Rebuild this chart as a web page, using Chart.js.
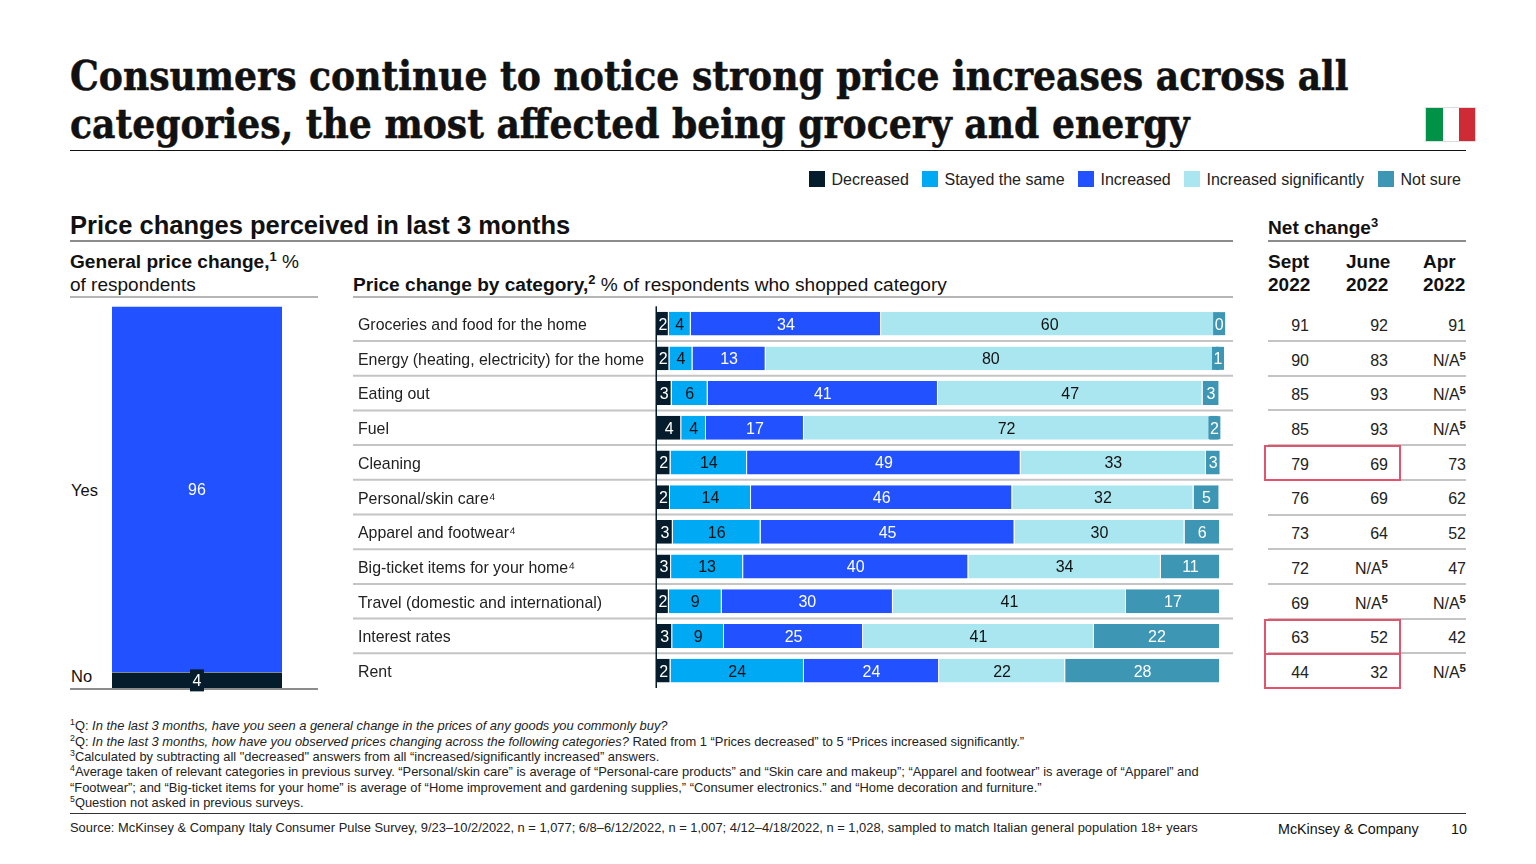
<!DOCTYPE html>
<html>
<head>
<meta charset="utf-8">
<script src="https://cdn.jsdelivr.net/npm/chart.js@4"></script>
<style>
html, body { margin: 0; background: #fff; }
#page { position: absolute; left: 0; top: 0; width: 1536px; height: 864px; overflow: hidden; color: #111;
  font-family: "Liberation Sans", Arial, sans-serif; }
#page div, #page canvas { position: absolute; }
.t { white-space: nowrap; line-height: 24px; height: 24px; }
.title { font-family: "DejaVu Serif", serif; font-stretch: condensed; font-weight: bold; font-size: 40.2px; line-height: 48px; height: 48px;
  color: #111; -webkit-text-stroke: 0.5px #111; white-space: nowrap; left: 70px; }
.h { font-size: 19.1px; font-weight: bold; }
.r { font-size: 16.5px; }
.foot { font-size: 12.9px; line-height: 16px; height: 16px; white-space: nowrap; left: 70px; color: #222; }
sup { font-size: 68%; line-height: 0; vertical-align: super; }
.cell { font-size: 16px; text-align: right; width: 60px; color: #222; }
.rule { height: 2px; background: #8c8c8c; }
.box { border: 2px solid #e2546e; box-sizing: border-box; }
</style>
</head>
<body>
<div id="page">
  <div class="title" style="top:52px">Consumers continue to notice strong price increases across all</div>
  <div class="title" style="top:100px">categories, the most affected being grocery and energy</div>
  <div style="left:70px;top:150px;width:1396px;height:1px;background:#111"></div>
  <div style="left:1425px;top:107px;width:51px;height:35px;background:#ddd"></div>
  <div style="left:1426px;top:108px;width:17px;height:33px;background:#009246"></div>
  <div style="left:1443px;top:108px;width:16px;height:33px;background:#fff"></div>
  <div style="left:1459px;top:108px;width:16px;height:33px;background:#ce2b37"></div>

  <div id="legend"></div>

  <div class="t" style="left:70px;top:213px;font-size:25.5px;font-weight:bold">Price changes perceived in last 3 months</div>
  <div class="rule" style="left:70px;top:240px;width:1163px"></div>
  <div class="t h" style="left:1268px;top:216px">Net change<sup>3</sup></div>
  <div class="rule" style="left:1268px;top:240px;width:198px"></div>

  <div class="t h" style="left:70px;top:250px">General price change,<sup>1</sup> <span style="font-weight:normal">%</span></div>
  <div class="t r" style="left:70px;top:273px;font-size:19px">of respondents</div>
  <div class="rule" style="left:70px;top:296px;width:248px;background:#b5b5b5"></div>
  <div class="t h" style="left:353px;top:273px">Price change by category,<sup>2</sup> <span style="font-weight:normal">% of respondents who shopped category</span></div>
  <div class="rule" style="left:353px;top:296px;width:880px;background:#b5b5b5"></div>

  <div class="t h" style="left:1268px;top:250px;font-size:19px">Sept</div>
  <div class="t h" style="left:1268px;top:273px;font-size:19px">2022</div>
  <div class="t h" style="left:1346px;top:250px;font-size:19px">June</div>
  <div class="t h" style="left:1346px;top:273px;font-size:19px">2022</div>
  <div class="t h" style="left:1423px;top:250px;font-size:19px">Apr</div>
  <div class="t h" style="left:1423px;top:273px;font-size:19px">2022</div>

  <div class="t r" style="left:71px;top:478px">Yes</div>
  <div class="t r" style="left:71px;top:664px">No</div>

  <canvas id="general" style="left:70px;top:300px"></canvas>
  <canvas id="category" style="left:353px;top:300px"></canvas>
  <div id="table"></div>

  <div class="foot" style="top:718px"><sup>1</sup>Q: <i>In the last 3 months, have you seen a general change in the prices of any goods you commonly buy?</i></div>
  <div class="foot" style="top:734px"><sup>2</sup>Q: <i>In the last 3 months, how have you observed prices changing across the following categories?</i> Rated from 1 “Prices decreased” to 5 “Prices increased significantly.”</div>
  <div class="foot" style="top:749px"><sup>3</sup>Calculated by subtracting all "decreased" answers from all “increased/significantly increased” answers.</div>
  <div class="foot" style="top:764px"><sup>4</sup>Average taken of relevant categories in previous survey. “Personal/skin care” is average of “Personal-care products” and “Skin care and makeup”; “Apparel and footwear” is average of “Apparel” and</div>
  <div class="foot" style="top:780px">“Footwear”; and “Big-ticket items for your home” is average of “Home improvement and gardening supplies,” “Consumer electronics.” and “Home decoration and furniture.”</div>
  <div class="foot" style="top:795px"><sup>5</sup>Question not asked in previous surveys.</div>
  <div style="left:70px;top:813px;width:1396px;height:1px;background:#333"></div>
  <div class="foot" style="top:820px">Source: McKinsey &amp; Company Italy Consumer Pulse Survey, 9/23–10/2/2022, n = 1,077; 6/8–6/12/2022, n = 1,007; 4/12–4/18/2022, n = 1,028, sampled to match Italian general population 18+ years</div>
  <div class="t" style="left:1278px;top:817px;font-size:14.3px">McKinsey &amp; Company</div>
  <div class="t" style="left:1451px;top:817px;font-size:14.3px">10</div>
</div>

<script>
"use strict";

const seriesNames = ["Decreased", "Stayed the same", "Increased", "Increased significantly", "Not sure"];
const seriesColors = ["#051c2c", "#00a9f4", "#2251ff", "#aae6f0", "#3c96b4"];
const labelColors = ["#fff", "#111", "#fff", "#111", "#fff"];

const categories = [
    "Groceries and food for the home",
    "Energy (heating, electricity) for the home",
    "Eating out",
    "Fuel",
    "Cleaning",
    "Personal/skin care⁴",
    "Apparel and footwear⁴",
    "Big-ticket items for your home⁴",
    "Travel (domestic and international)",
    "Interest rates",
    "Rent"
];

// labels show them rounded
const decreased = [2.1, 2.2, 2.6, 4.3, 2.4, 2.3, 2.8, 2.5, 2.1, 2.7, 2.4];
const stayedSame = [3.9, 4.1, 6.4, 4.4, 13.6, 14.4, 15.6, 12.8, 9.4, 9.2, 23.7];
const increased = [33.8, 13.0, 40.9, 17.4, 48.6, 46.4, 45.1, 40.0, 30.4, 24.7, 24.0];
const increasedSig = [59.9, 80.0, 47.0, 72.0, 32.9, 32.2, 30.2, 34.2, 41.4, 41.0, 22.4];
const notSure = [0.3, 0.7, 3.0, 1.8, 2.6, 4.6, 6.3, 10.5, 16.7, 22.4, 27.5];

const generalLabels = ["No", "Yes"];
const generalNo = [4];
const generalYes = [96];

const netSept = ["91", "90", "85", "85", "79", "76", "73", "72", "69", "63", "44"];
const netJune = ["92", "83", "93", "93", "69", "69", "64", "N/A", "N/A", "52", "32"];
const netApr = ["91", "N/A", "N/A", "N/A", "73", "62", "52", "47", "N/A", "42", "N/A"];
const highlightRows = [4, 9, 10];

// Boxed labels and dividers are drawn through the chart's scales
const valueLabels = {
    id: "valueLabels",
    afterDatasetsDraw(chart) {
        let ctx = chart.ctx;
        ctx.save();
        ctx.font = "16px 'Liberation Sans'";
        ctx.textAlign = "center";
        ctx.textBaseline = "middle";
        chart.data.datasets.forEach((ds, d) => {
            chart.getDatasetMeta(d).data.forEach((bar, i) => {
                let p = bar.getCenterPoint();
                let horizontal = chart.options.indexAxis === "y";
                let size = horizontal ? Math.abs(bar.x - bar.base) : Math.abs(bar.y - bar.base);
                if (size < 11 || (!horizontal && size < 20)) {
                    ctx.fillStyle = ds.backgroundColor;
                    if (horizontal) {
                        ctx.fillRect(p.x - 6, p.y - 11.5, 12, 23);
                    } else {
                        ctx.fillRect(p.x - 7, p.y - 11, 14, 22);
                    }
                }
                ctx.fillStyle = ds.labelColor;
                ctx.fillText(Math.round(ds.data[i]), p.x, p.y + 1.5);
            });
        });
        ctx.restore();
    }
};

const rowDividers = {
    id: "rowDividers",
    beforeDatasetsDraw(chart) {
        let y = chart.scales.y;
        let ctx = chart.ctx;
        ctx.save();
        ctx.strokeStyle = "#c4c4c4";
        ctx.lineWidth = 2;
        for (let i = 0; i < categories.length - 1; i++) {
            let py = (y.getPixelForValue(i) + y.getPixelForValue(i + 1)) / 2;
            ctx.beginPath();
            ctx.moveTo(0, py);
            ctx.lineTo(chart.width, py);
            ctx.stroke();
        }
        // axis line sits just left of the bars
        ctx.fillStyle = "#051c2c";
        ctx.fillRect(chart.chartArea.left - 1.5, chart.chartArea.top, 1.5, chart.chartArea.bottom - chart.chartArea.top);
        ctx.restore();
    }
};

const baseLine = {
    id: "baseLine",
    afterDatasetsDraw(chart) {
        let ctx = chart.ctx;
        ctx.save();
        ctx.fillStyle = "#8c8c8c";
        ctx.fillRect(0, chart.chartArea.bottom, chart.width, 2);
        ctx.restore();
    }
};

function buildLegend() {
    let legend = document.getElementById("legend");
    let starts = [809, 922, 1078, 1184, 1378];
    seriesNames.forEach((name, i) => {
        let swatch = document.createElement("div");
        swatch.style.cssText = `left:${starts[i]}px;top:171px;width:16px;height:16px;background:${seriesColors[i]}`;
        legend.append(swatch);
        let text = document.createElement("div");
        text.className = "t";
        text.style.cssText = `left:${starts[i] + 22.5}px;top:168px;font-size:16px;color:#222`;
        text.textContent = name;
        legend.append(text);
    });
}

function buildCategoryChart() {
    let canvas = document.getElementById("category");
    canvas.width = 880;
    canvas.height = 394;
    let data = [decreased, stayedSame, increased, increasedSig, notSure];
    return new Chart(canvas.getContext("2d"), {
        type: "bar",
        plugins: [rowDividers, valueLabels],
        data: {
            labels: categories,
            datasets: seriesNames.map((name, i) => ({
                label: name,
                data: data[i],
                backgroundColor: seriesColors[i],
                labelColor: labelColors[i],
                borderColor: "#fff",
                borderWidth: { right: 1, left: 0, top: 0, bottom: 0 },
                borderSkipped: false,
                barPercentage: 0.69,
                categoryPercentage: 1,
                clip: false
            }))
        },
        options: {
            indexAxis: "y",
            responsive: false,
            animation: false,
            events: [],
            layout: { padding: { left: 5, right: 13, top: 6.3, bottom: 6 } },
            plugins: { legend: { display: false }, tooltip: { enabled: false } },
            scales: {
                x: { stacked: true, min: 0, max: 100, display: false },
                y: {
                    stacked: true,
                    grid: { display: false, drawTicks: false },
                    border: { display: false },
                    // tick labels would otherwise add their own margin above and below
                    afterFit(scale) {
                        scale.width = 299;
                        scale.paddingTop = 0;
                        scale.paddingBottom = 0;
                    },
                    ticks: {
                        crossAlign: "far",
                        autoSkip: false,
                        labelOffset: 2,
                        color: "#222",
                        font: { family: "Liberation Sans", size: 15.9 }
                    }
                }
            }
        }
    });
}

function buildGeneralChart() {
    let canvas = document.getElementById("general");
    canvas.width = 248;
    canvas.height = 394;
    return new Chart(canvas.getContext("2d"), {
        type: "bar",
        plugins: [baseLine, valueLabels],
        data: {
            labels: ["General price change"],
            datasets: [
                { label: generalLabels[0], data: generalNo, backgroundColor: seriesColors[0], labelColor: "#fff" },
                { label: generalLabels[1], data: generalYes, backgroundColor: seriesColors[2], labelColor: "#fff",
                  borderColor: "#fff", borderWidth: { bottom: 1, top: 0, left: 0, right: 0 }, borderSkipped: false }
            ]
        },
        options: {
            responsive: false,
            animation: false,
            events: [],
            datasets: { bar: { barPercentage: 1, categoryPercentage: 1 } },
            layout: { padding: { left: 42, right: 36, top: 6.4, bottom: 6 } },
            plugins: { legend: { display: false }, tooltip: { enabled: false } },
            scales: {
                x: { stacked: true, display: false },
                y: { stacked: true, min: 0, max: 100, display: false }
            }
        }
    });
}

function netCell(value) {
    return value === "N/A" ? "N/A<sup style='font-weight:bold;font-size:72%'>5</sup>" : value;
}

function buildTable(chart) {
    let table = document.getElementById("table");
    let y = chart.scales.y;
    let top = parseFloat(chart.canvas.style.top);
    categories.forEach((name, i) => {
        let center = top + y.getPixelForValue(i);
        [[netSept, 1309], [netJune, 1388], [netApr, 1466]].forEach(([values, right]) => {
            let cell = document.createElement("div");
            cell.className = "t cell";
            cell.style.left = (right - 60) + "px";
            cell.style.top = (center - 9.7) + "px";
            cell.innerHTML = netCell(values[i]);
            table.append(cell);
        });
        if (i < categories.length - 1) {
            let rule = document.createElement("div");
            rule.style.cssText = `left:1268px;width:198px;height:2px;background:#c4c4c4;top:${center + 16.4}px`;
            table.append(rule);
        }
        if (highlightRows.includes(i)) {
            let box = document.createElement("div");
            box.className = "box";
            box.style.cssText = `left:1264px;width:137px;height:36px;top:${center - 17.3}px`;
            table.append(box);
        }
    });
}

buildLegend();
buildGeneralChart();
buildTable(buildCategoryChart());
</script>
</body>
</html>
